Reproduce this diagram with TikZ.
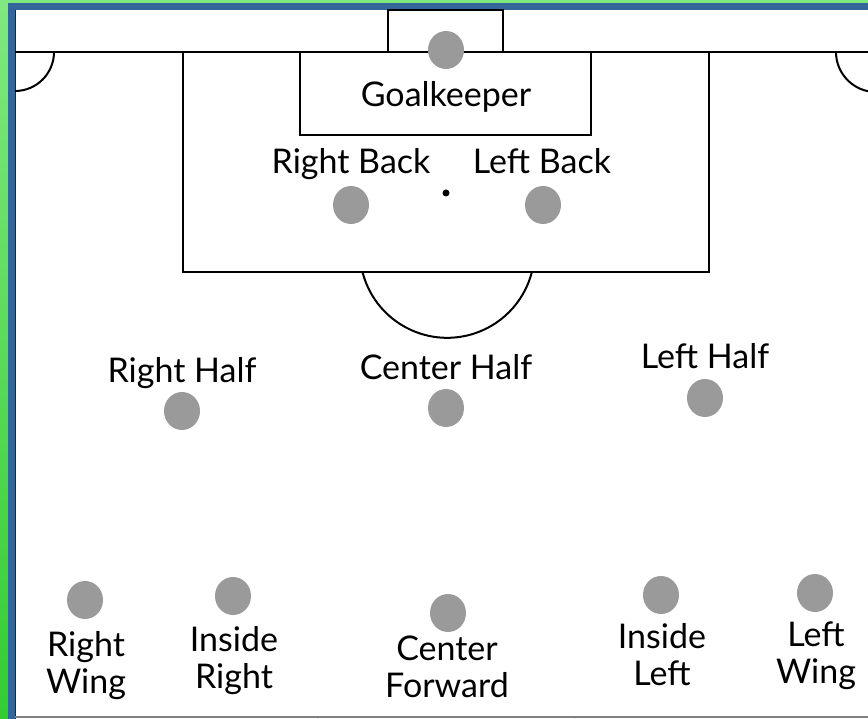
\documentclass[tikz,border=0pt]{standalone}
\usepackage{fontspec}
\setmainfont{Lato}
\usetikzlibrary{shapes.geometric}
\definecolor{gtop}{HTML}{80E880}
\definecolor{gbot}{HTML}{33CC33}
\definecolor{frameblue}{HTML}{336699}
\definecolor{dotgray}{HTML}{9A9A9A}
\definecolor{halfgray}{HTML}{808080}
\tikzset{
  fieldline/.style={draw=black, line width=2pt},
  player/.style={ellipse, fill=dotgray, draw=none, minimum width=36pt, minimum height=38pt, inner sep=0pt},
  lbl/.style={font=\fontsize{34}{37}\selectfont, inner sep=0pt, anchor=base, align=center},
}
\begin{document}
\begin{tikzpicture}[x=1pt,y=-1pt]
\useasboundingbox (0,0) rectangle (868,719);
% background frame
\shade[top color=gtop, bottom color=gbot] (0,0) rectangle (868,719);
\fill[frameblue] (8,3.5) rectangle (868,719);
\fill[white] (15,10) rectangle (868,719);
\draw[line width=1.5pt, black!85] (15.5,10) -- (15.5,719);
% goal line and boxes
\draw[fieldline] (15,52) -- (868,52);
\draw[fieldline] (388,10) rectangle (503,52);
\draw[fieldline] (300,52) rectangle (591,135);
\draw[fieldline] (183,52) rectangle (709,272);
% penalty spot
\fill (446,193) circle (3.5);
% penalty arc
\draw[fieldline] (362.5,272) arc[start angle=-165.7, end angle=-14.3, x radius=87.4, y radius=-87.4];
% corner arcs
\draw[fieldline] (54,52) arc[start angle=0, end angle=-90, x radius=39, y radius=-39];
\draw[fieldline] (836,52) arc[start angle=180, end angle=270, x radius=40, y radius=-40];
% halfway line and centre circle
\draw[line width=1.5pt, halfgray] (15,717) -- (868,717);
\draw[fieldline] (317.5,719) arc[start angle=181, end angle=359, x radius=129, y radius=-129];
% players
\node[player] (gk) at (446,50) {};
\node[player] (rb) at (351,205) {};
\node[player] (lb) at (543,205) {};
\node[player] (rh) at (182,411) {};
\node[player] (ch) at (446,408) {};
\node[player] (lh) at (705,398) {};
\node[player] (rw) at (85,600) {};
\node[player] (ir) at (233,596) {};
\node[player] (cf) at (448,613) {};
\node[player] (il) at (661,595) {};
\node[player] (lw) at (815,593) {};
% labels
\node[lbl] (tgk) at (446,107) {Goalkeeper};
\node[lbl] (trb) at (351,174) {Right Back};
\node[lbl] (tlb) at (542,174) {Left Back};
\node[lbl] (trh) at (182,383) {Right Half};
\node[lbl] (tch) at (446,380) {Center Half};
\node[lbl] (tlh) at (705,369) {Left Half};
\node[lbl] (trw) at (86,693) {Right\\Wing};
\node[lbl] (tir) at (234,688) {Inside\\Right};
\node[lbl] (tcf) at (447,697) {Center\\Forward};
\node[lbl] (til) at (662,685) {Inside\\Left};
\node[lbl] (tlw) at (816,683) {Left\\Wing};
\end{tikzpicture}
\end{document}
